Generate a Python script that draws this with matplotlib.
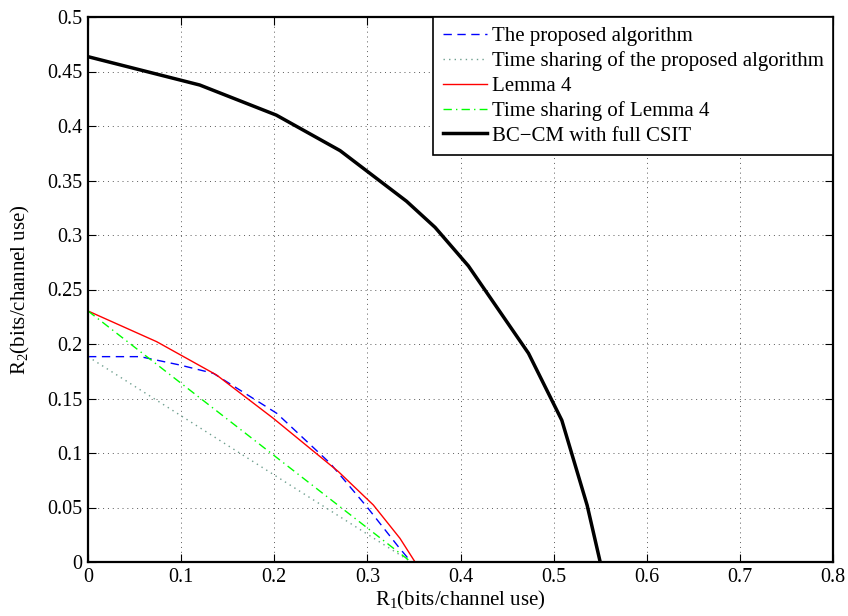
import matplotlib
matplotlib.use("Agg")
import matplotlib.pyplot as plt

plt.rcParams['font.family'] = ['Liberation Serif', 'DejaVu Serif']
plt.rcParams['mathtext.fontset'] = 'custom'
plt.rcParams['mathtext.rm'] = 'Liberation Serif'
plt.rcParams['mathtext.it'] = 'Liberation Serif:italic'

# Rate-region boundaries (R1, R2) in bits/channel use
proposed_r1 = [0.0, 0.056, 0.0988, 0.1346, 0.2027, 0.26, 0.2994, 0.3333, 0.347]
proposed_r2 = [0.1884, 0.1884, 0.1807, 0.1731, 0.1364, 0.0906, 0.0507, 0.014, 0.0]

ts_proposed_r1 = [0.0, 0.347]
ts_proposed_r2 = [0.1884, 0.0]

lemma4_r1 = [0.0, 0.0738, 0.138, 0.199, 0.2689, 0.3064, 0.335, 0.3512]
lemma4_r2 = [0.2303, 0.2021, 0.1716, 0.1318, 0.0829, 0.0523, 0.0217, 0.0]

ts_lemma4_r1 = [0.0, 0.347]
ts_lemma4_r2 = [0.2303, 0.0]

full_csit_r1 = [0.0, 0.12, 0.2022, 0.2707, 0.342, 0.3727, 0.4085, 0.473, 0.5088, 0.536, 0.55]
full_csit_r2 = [0.4636, 0.4376, 0.410, 0.3774, 0.331, 0.307, 0.2716, 0.1915, 0.130, 0.052, 0.0]

x_ticks = [0, 0.1, 0.2, 0.3, 0.4, 0.5, 0.6, 0.7, 0.8]
y_ticks = [0, 0.05, 0.1, 0.15, 0.2, 0.25, 0.3, 0.35, 0.4, 0.45, 0.5]

fig = plt.figure(figsize=(8.48, 6.16), dpi=100)
ax = fig.add_axes([88 / 848, 1 - 562 / 616, 745 / 848, 545 / 616])

ax.plot(proposed_r1, proposed_r2, color='#0000ff', lw=1.0, ls=(0, (6, 4)),
        label='The proposed algorithm')
ax.plot(ts_proposed_r1, ts_proposed_r2, color='#6f9f8f', lw=1.0, ls=(0, (1, 3)),
        label='Time sharing of the proposed algorithm')
ax.plot(lemma4_r1, lemma4_r2, color='#ff0000', lw=1.0, label='Lemma 4')
ax.plot(ts_lemma4_r1, ts_lemma4_r2, color='#00ff00', lw=1.0, ls=(0, (6, 3, 1, 3)),
        label='Time sharing of Lemma 4')
ax.plot(full_csit_r1, full_csit_r2, color='black', lw=2.5,
        label='BC\u2212CM with full CSIT')

ax.set_xlim(0, 0.8)
ax.set_ylim(0, 0.5)
ax.set_xticks(x_ticks)
ax.set_yticks(y_ticks)
ax.set_xticklabels([f'{v:g}' for v in x_ticks])
ax.set_yticklabels([f'{v:g}' for v in y_ticks])
ax.tick_params(direction='in', length=6, width=0.8, labelsize=14.5,
               top=True, right=True, pad=4)
for s in ax.spines.values():
    s.set_linewidth(1.6)

ax.grid(True, color='0.35', ls=(0, (1, 4)), lw=0.7)

ax.set_xlabel(r'$\mathrm{R_1}$(bits/channel use)', fontsize=15, labelpad=2)
ax.set_ylabel(r'$\mathrm{R_2}$(bits/channel use)', fontsize=15, labelpad=11)

leg = ax.legend(loc='upper right', borderaxespad=0, fontsize=15,
                handlelength=2.1, handletextpad=0.25, labelspacing=0.25,
                borderpad=0.45, fancybox=False, framealpha=1, edgecolor='black')
leg.get_frame().set_linewidth(1.2)

fig.savefig('out.png', dpi=100)
